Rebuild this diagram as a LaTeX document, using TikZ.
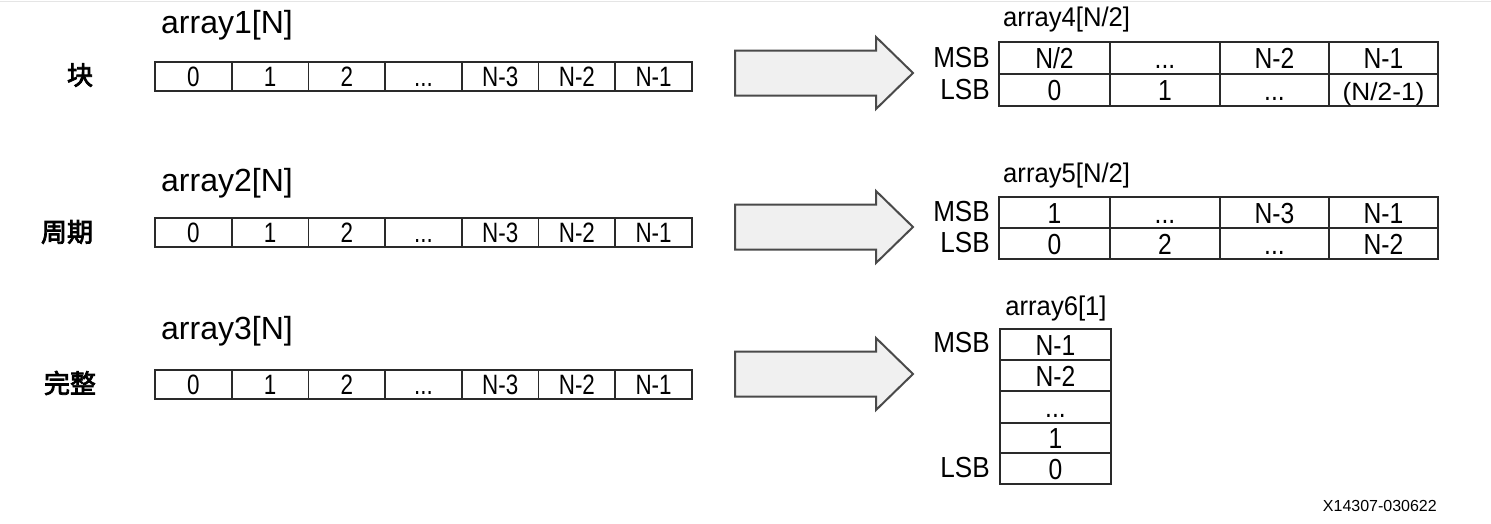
\documentclass[tikz,border=0pt]{standalone}
\usepackage{fontspec}
\setmainfont{Liberation Sans}
\newfontfamily\lfont{Liberation Sans}
\newfontfamily\nfont{Liberation Sans}[FakeStretch=0.8]
\newfontfamily\cfont{Liberation Sans}[FakeStretch=0.85]
\newfontfamily\mfont{Liberation Sans}[FakeStretch=0.9]
\newfontfamily\tfont{Liberation Sans}[FakeStretch=0.95]
\newfontfamily\pfont{Liberation Sans}[FakeStretch=1.05]
\newfontfamily\cjk{Noto Sans CJK SC}[FakeBold=3]
\newcommand\dotsx{...}
\definecolor{boxline}{HTML}{2A2A2A}
\definecolor{arrowfill}{HTML}{F0F0F0}
\definecolor{arrowline}{HTML}{4A4A4A}
\tikzset{
  cell/.style={draw=boxline, line width=1.8pt, inner sep=0pt, minimum height=29pt,
    font=\nfont\fontsize{28}{28}\selectfont, text height=20pt, text depth=0pt},
  wcell/.style={draw=boxline, line width=1.8pt, inner sep=0pt,
    font=\cfont\fontsize{29}{29}\selectfont, text height=21pt, text depth=0pt},
  arrlabel/.style={inner sep=0pt, anchor=west, font=\lfont\fontsize{32}{32}\selectfont},
  smlabel/.style={inner sep=0pt, font=\tfont\fontsize{27}{27}\selectfont},
  bitlabel/.style={inner sep=0pt, anchor=east, font=\mfont\fontsize{29}{29}\selectfont},
  cjklabel/.style={inner sep=0pt, font=\cjk\fontsize{26}{26}\selectfont},
  bigarrow/.style={draw=arrowline, fill=arrowfill, line width=2pt, line join=miter},
}
\begin{document}
\begin{tikzpicture}[x=1pt,y=-1pt]
\useasboundingbox (0,0) rectangle (1491,523);
\draw[gray!20, line width=1pt] (0,1) -- (1491,1);

% ---------- left arrays ----------
\foreach \r/\yc/\ly/\nm in {1/76.5/25/array1, 2/232.5/183/array2, 3/384.5/331/array3}{
  \node[arrlabel] (lab\r) at (161,\ly) {\nm[N]};
  \foreach \i/\t in {1/0, 2/1, 3/2, 4/\dotsx, 5/N-3, 6/N-2, 7/N-1}{
    \node[cell, minimum width=76.7pt] (a\r c\i) at ({155+76.71*(\i-0.5)},\yc) {\t};
  }
}
\node[cjklabel] (blk) at (80,75) {块};
\node[cjklabel] (cyc) at (67,232) {周期};
\node[cjklabel] (cmp) at (70,383) {完整};

% ---------- arrows ----------
\foreach \r/\tp in {1/73, 2/227, 3/374}{
  \draw[bigarrow] (735,\tp-22.5) -- (876,\tp-22.5) -- (876,\tp-36) -- (913,\tp)
    -- (876,\tp+36) -- (876,\tp+22.5) -- (735,\tp+22.5) -- cycle;
}

% ---------- array4 ----------
\node[smlabel, anchor=west] (lab4) at (1003,20) {array4[N/2]};
\node[bitlabel] (msb4) at (990,58) {MSB};
\node[bitlabel] (lsb4) at (990,90) {LSB};
\foreach \j/\xl/\xr/\tm/\tl in {1/999/1110/N\slash2/0, 2/1110/1220/\dotsx/1, 3/1220/1329/N-2/\dotsx, 4/1329/1438/N-1/{\pfont\fontsize{25}{25}\selectfont(N/2-1)}}{
  \node[wcell, minimum width={\xr-\xl}, minimum height=32pt] (m4\j) at ({(\xl+\xr)/2},58) {\tm};
  \node[wcell, minimum width={\xr-\xl}, minimum height=32pt] (l4\j) at ({(\xl+\xr)/2},90) {\tl};
}

% ---------- array5 ----------
\node[smlabel, anchor=west] (lab5) at (1003,176) {array5[N/2]};
\node[bitlabel] (msb5) at (990,212) {MSB};
\node[bitlabel] (lsb5) at (990,243) {LSB};
\foreach \j/\xl/\xr/\tm/\tl in {1/999/1110/1/0, 2/1110/1220/\dotsx/2, 3/1220/1329/N-3/\dotsx, 4/1329/1438/N-1/N-2}{
  \node[wcell, minimum width={\xr-\xl}, minimum height=31pt] (m5\j) at ({(\xl+\xr)/2},212.5) {\tm};
  \node[wcell, minimum width={\xr-\xl}, minimum height=31pt] (l5\j) at ({(\xl+\xr)/2},243.5) {\tl};
}

% ---------- array6 ----------
\node[smlabel] (lab6) at (1056,309) {array6[1]};
\node[bitlabel] (msb6) at (990,343) {MSB};
\node[bitlabel] (lsb6) at (990,468) {LSB};
\foreach \k/\yt/\yb/\t in {1/329/360/N-1, 2/360/391/N-2, 3/391/423/\dotsx, 4/423/453/1, 5/453/484/0}{
  \node[wcell, minimum width=111pt, minimum height={\yb-\yt}] (c6\k) at (1055.5,{(\yt+\yb)/2}) {\t};
}

% ---------- id ----------
\node[inner sep=0pt, anchor=east, font=\lfont\fontsize{16}{16}\selectfont] (fid) at (1437,506) {X14307-030622};
\end{tikzpicture}
\end{document}
